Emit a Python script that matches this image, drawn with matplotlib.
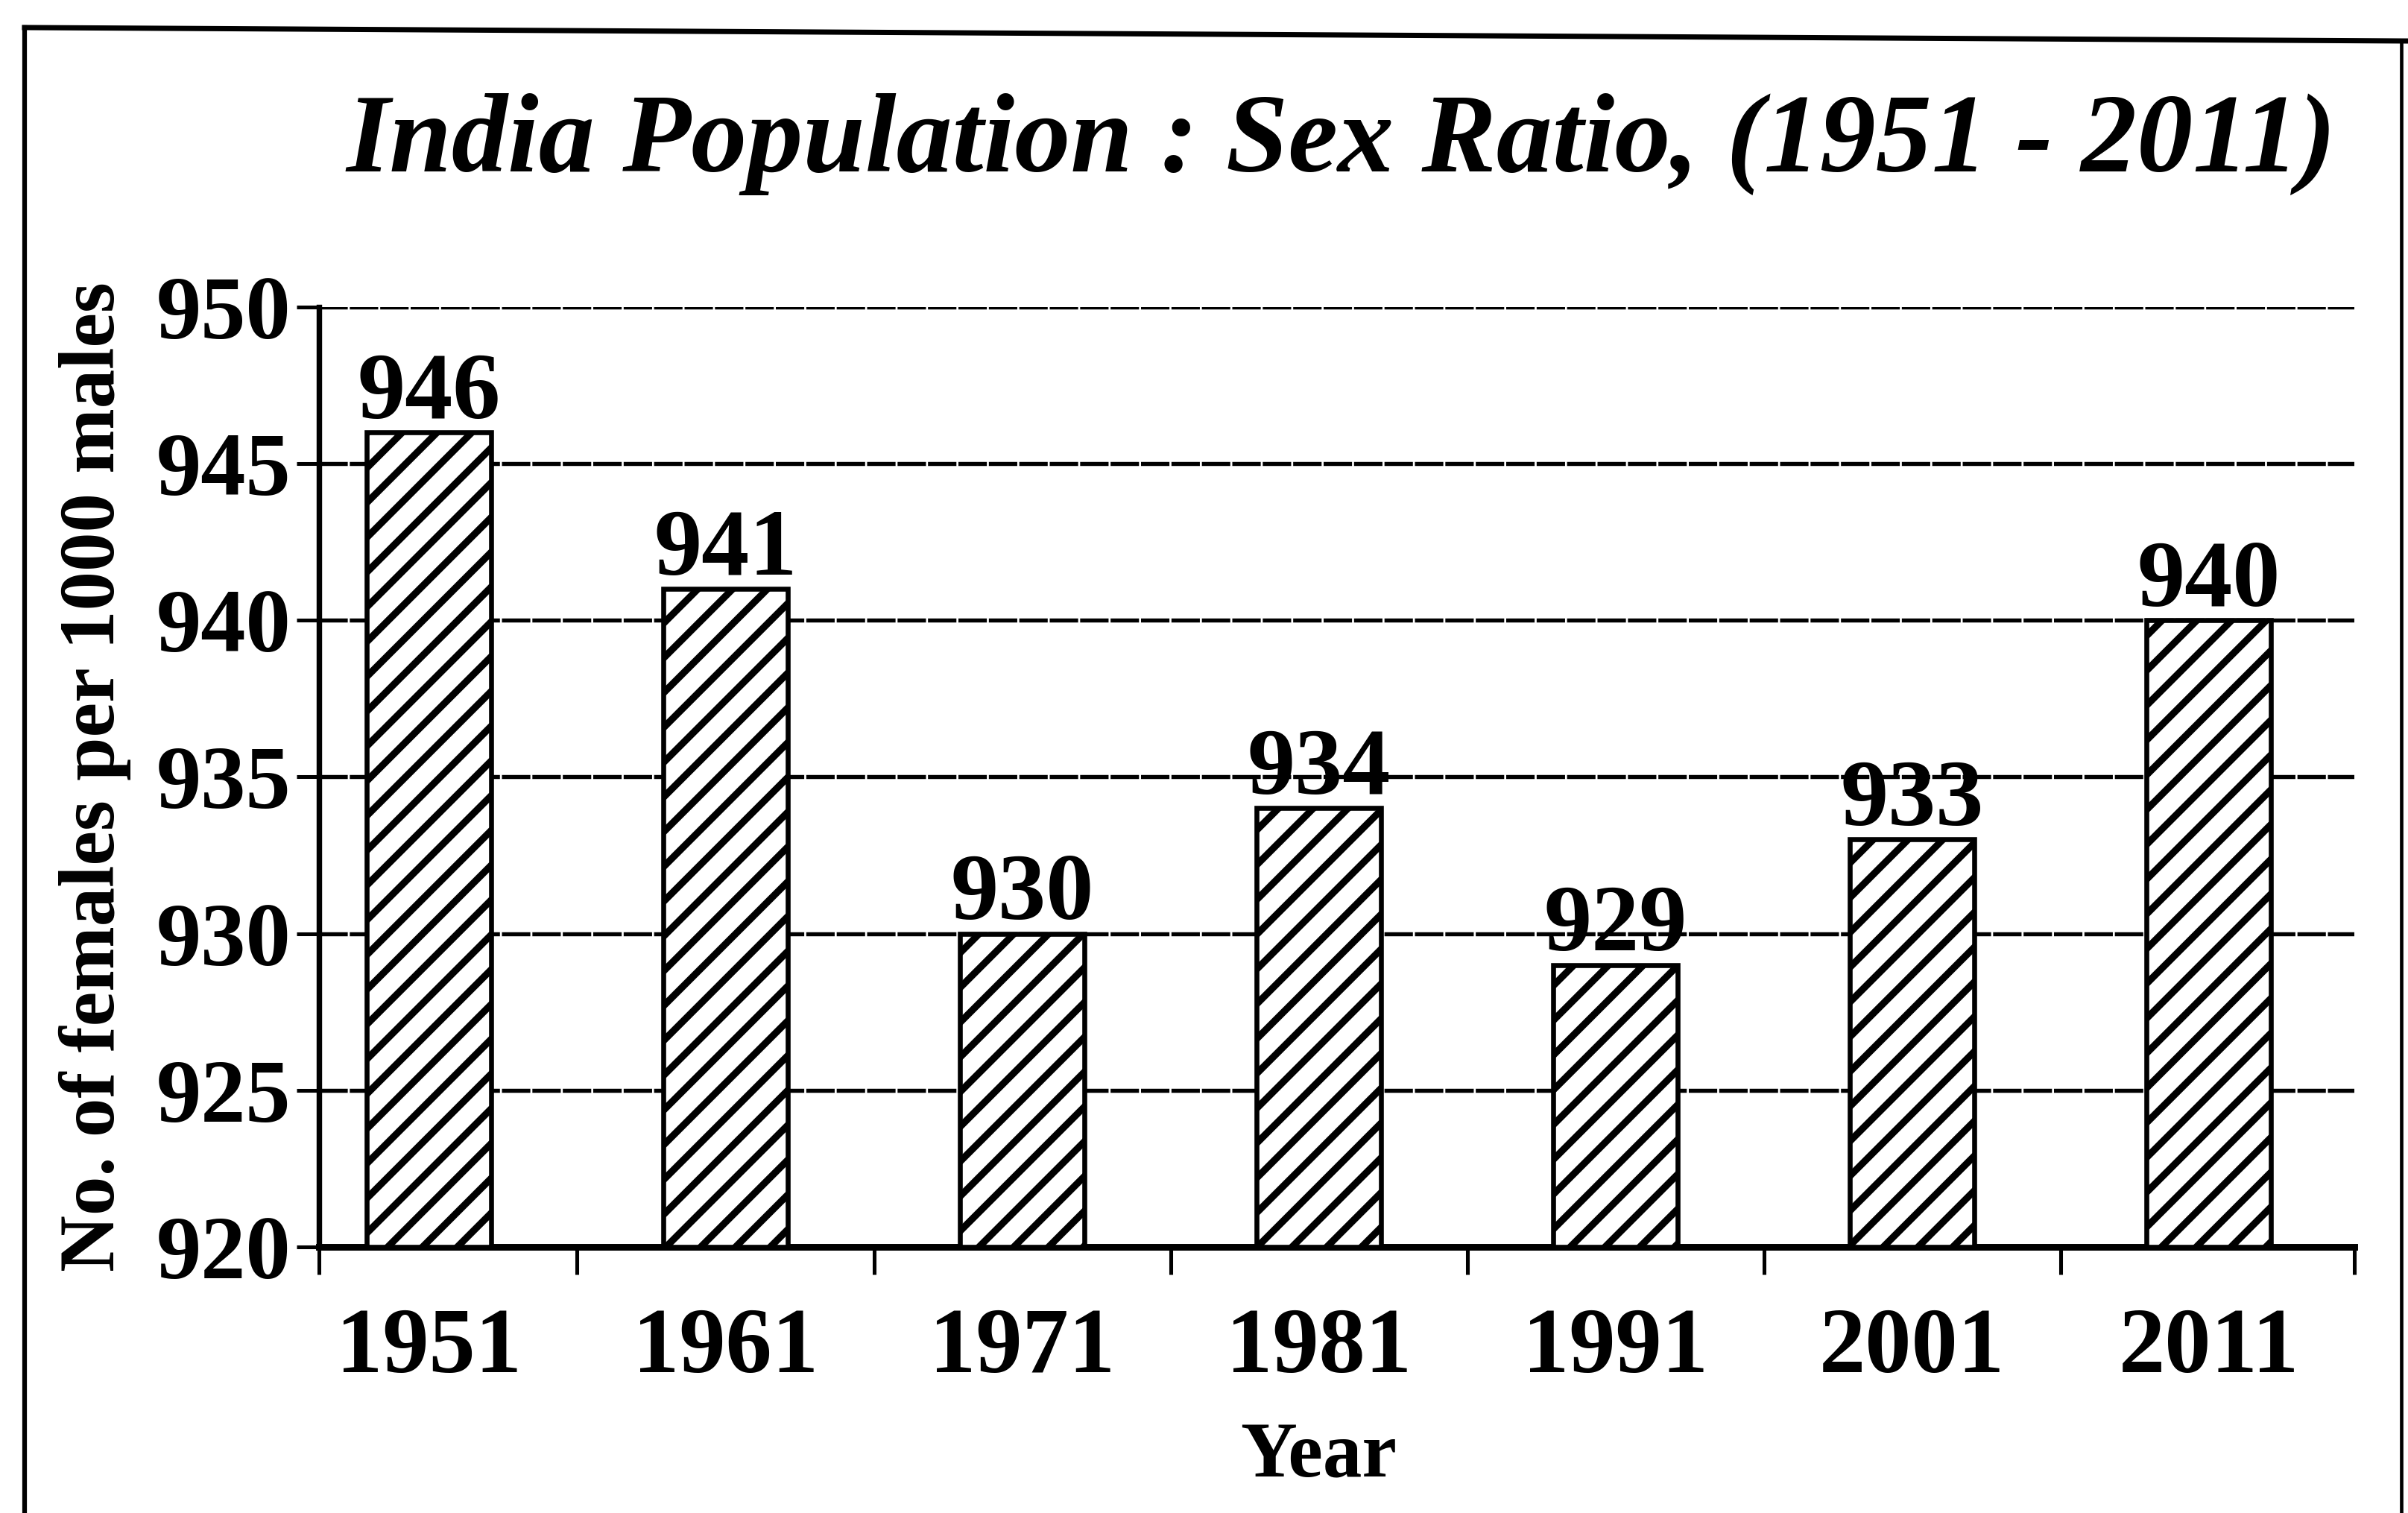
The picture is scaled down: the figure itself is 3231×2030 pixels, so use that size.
import numpy as np
import matplotlib
matplotlib.use('Agg')
import matplotlib.pyplot as plt
from matplotlib.lines import Line2D

# data
years = ['1951', '1961', '1971', '1981', '1991', '2001', '2011']
sex_ratio = [946, 941, 930, 934, 929, 933, 940]
y_ticks = [920, 925, 930, 935, 940, 945, 950]

title = 'India Population : Sex Ratio, (1951 - 2011)'
y_label = 'No. of females per 1000 males'
x_label = 'Year'

plt.rcParams['font.family'] = 'Liberation Serif'
plt.rcParams['font.weight'] = 'bold'
plt.rcParams['hatch.linewidth'] = 2.4

fig = plt.figure(figsize=(3231 / 280, 2030 / 280), dpi=280)
ax = fig.add_axes([0.1325, 0.176, 0.8452, 0.621])

pos = np.arange(len(years))
base = y_ticks[0]
heights = np.array(sex_ratio) - base
ax.bar(pos, heights, bottom=base, width=0.42, color='white',
       edgecolor='black', linewidth=1.7, hatch='//', zorder=3)

for p, v in zip(pos, sex_ratio):
    ax.annotate(str(v), xy=(p, v), xytext=(0, 5), textcoords='offset points',
                ha='center', va='baseline', fontsize=33, zorder=4)

x_left, x_right = -0.37, 6.49
ax.set_xlim(x_left, x_right)
ax.set_ylim(y_ticks[0], y_ticks[-1])

# tick marks sit between the bars, labels sit under the bars
ax.set_xticks([x_left] + list(pos[:-1] + 0.5) + [x_right])
ax.set_xticklabels([])
ax.set_xticks(pos, minor=True)
ax.set_xticklabels(years, minor=True)
ax.tick_params(axis='x', which='major', length=9.5, width=1.3, direction='out')
ax.tick_params(axis='x', which='minor', length=0, pad=21, labelsize=32)

ax.set_yticks(y_ticks)
ax.tick_params(axis='y', length=7.7, width=1.3, pad=2, labelsize=31)

ax.yaxis.grid(True, color='black', linewidth=1.4, linestyle=(0, (7, 0.5)))
ax.set_axisbelow(True)

ax.spines['top'].set_visible(False)
ax.spines['right'].set_visible(False)
ax.spines['left'].set_linewidth(1.9)
ax.spines['bottom'].set_linewidth(2.3)

ax.set_ylabel(y_label, fontsize=27, fontweight='bold', va='center', ha='center')
ax.yaxis.set_label_coords(-0.11, 0.5)
ax.set_xlabel(x_label, fontsize=27, fontweight='bold', va='center', ha='center')
ax.xaxis.set_label_coords(0.491, -0.225)

fig.text(0.1436, 0.8866, title, fontsize=38.6, style='italic',
         weight='bold', ha='left', va='baseline')

# scanned page frame
fig.add_artist(Line2D([0.0102, 0.0102], [0.0, 0.9818], transform=fig.transFigure,
                      color='black', linewidth=1.6))
fig.add_artist(Line2D([0.0102, 1.0], [0.9818, 0.9729], transform=fig.transFigure,
                      color='black', linewidth=1.8))
fig.add_artist(Line2D([0.9972, 0.9972], [0.0, 0.9735], transform=fig.transFigure,
                      color='black', linewidth=1.2))

fig.savefig('out.png', dpi=280, facecolor='white')
